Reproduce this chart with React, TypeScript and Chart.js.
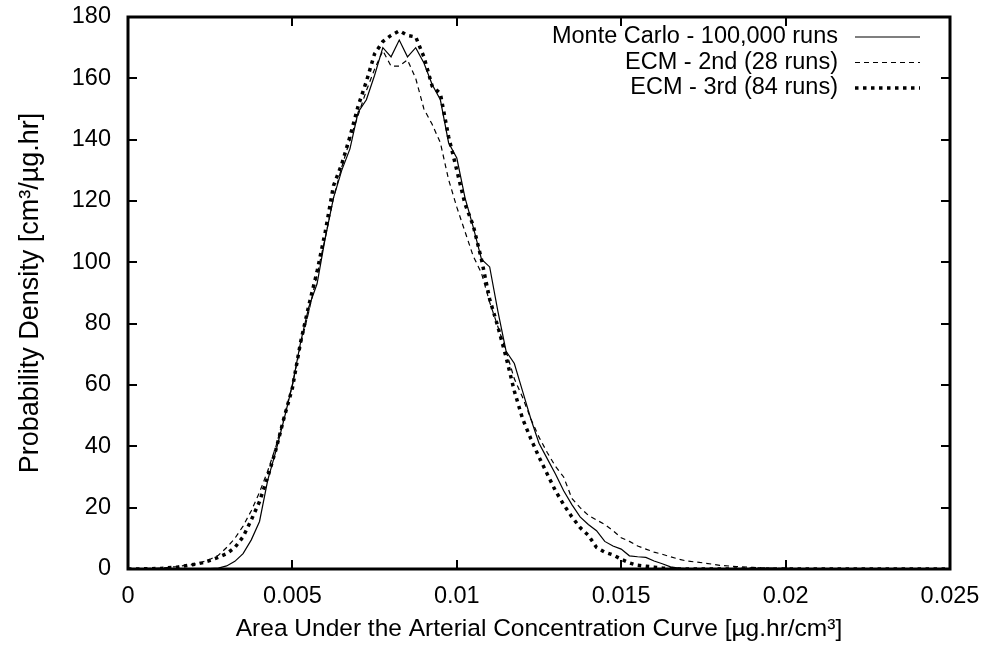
import React, { useEffect, useRef } from "react";
import { Chart, registerables } from "chart.js";

Chart.register(...registerables);

const xValues = [
  0, 0.0005, 0.001, 0.0015,
  0.002, 0.00225, 0.0025, 0.00275, 0.003, 0.00325, 0.0035, 0.00375, 0.004, 0.00425,
  0.0045, 0.00475, 0.005, 0.00525, 0.0055, 0.00575, 0.006, 0.00625, 0.0065, 0.00675,
  0.007, 0.00725, 0.0075, 0.00775, 0.008, 0.00825, 0.0085, 0.00875, 0.009, 0.00925,
  0.0095, 0.00975, 0.01, 0.01025, 0.0105, 0.01075, 0.011, 0.01125, 0.0115, 0.01175,
  0.012, 0.01225, 0.0125, 0.01275, 0.013, 0.01325, 0.0135, 0.01375, 0.014, 0.01425,
  0.0145, 0.01475, 0.015, 0.01525, 0.0155, 0.01575, 0.016, 0.01625, 0.0165, 0.01675,
  0.017, 0.0175, 0.018, 0.0185, 0.019, 0.0195, 0.02, 0.021, 0.022, 0.023, 0.024, 0.025,
];

const monteCarlo = [
  0, 0, 0, 0,
  0, 0, 0.1, 0.3, 1, 2.5, 5, 9.5, 15.5, 29,
  38.5, 49, 60, 74, 85.5, 93, 108, 121, 130, 137,
  149, 153, 161, 170, 167, 172.5, 167, 170, 165, 158,
  153, 139, 134, 121, 111.5, 101, 98.5, 84, 71, 67,
  58, 49, 41, 36, 31, 25.5, 21, 17, 14.5, 12.5,
  9, 7.5, 6.5, 4.3, 4, 3.8, 2.6, 1.7, 0.7, 0.3,
  0.1, 0, 0, 0, 0, 0, 0, 0, 0, 0, 0, 0,
];

const ecm2nd = [
  0, 0.1, 0.3, 0.8,
  1.5, 2.2, 3.2, 4.5, 7, 10, 14, 19, 25, 32,
  40, 50, 60, 73, 84, 96, 108, 121, 131, 140,
  148, 156, 163, 169, 164, 164, 166, 160, 150, 145,
  139, 127, 118, 110, 102, 96.5, 87, 79, 71, 62,
  56, 49, 43, 38, 33.5, 30, 23, 20, 17.5, 16,
  14.5, 12.5, 10.2, 9, 7.5, 6.5, 5.5, 4.8, 4, 3.2,
  2.6, 2, 1.2, 0.8, 0.5, 0.3, 0.2, 0.05, 0, 0, 0, 0,
];

const ecm3rd = [
  0, 0.05, 0.2, 0.6,
  1.5, 2, 2.8, 3.8, 5, 7, 10.5, 16, 22, 30,
  39, 49.5, 59, 74, 86, 97, 110, 125, 132, 141,
  151, 159, 168, 172, 174, 175.5, 174, 173.5, 167, 157.5,
  155, 141, 130, 119, 112, 101, 88, 79, 69, 58,
  49, 42.5, 36.5, 31, 25.5, 21, 17, 13.5, 11, 7,
  5.5, 4.6, 3.2, 2, 1.2, 0.9, 0.6, 0.3, 0.1, 0,
  0, 0, 0, 0, 0, 0, 0, 0, 0, 0, 0, 0,
];

const seriesLabels = [
  "Monte Carlo - 100,000 runs",
  "ECM - 2nd (28 runs)",
  "ECM - 3rd (84 runs)",
];

const xTicks = [0, 0.005, 0.01, 0.015, 0.02, 0.025];
const yTicks = [0, 20, 40, 60, 80, 100, 120, 140, 160, 180];

const FONT = "'Liberation Sans', Arial, Helvetica, sans-serif";
const FS = 23.5;

const framePlugin = {
  id: "frameTicks",
  afterDatasetsDraw(chart: any) {
    const { ctx, chartArea } = chart;
    const { left, right, top, bottom } = chartArea;
    const xs = chart.scales.x;
    const ys = chart.scales.y;
    ctx.save();
    ctx.strokeStyle = "#000";
    ctx.lineWidth = 2;
    const tl = 9;
    ctx.beginPath();
    xTicks.forEach((v) => {
      const px = Math.round(xs.getPixelForValue(v));
      ctx.moveTo(px, bottom);
      ctx.lineTo(px, bottom - tl);
      ctx.moveTo(px, top);
      ctx.lineTo(px, top + tl);
    });
    yTicks.forEach((v) => {
      const py = Math.round(ys.getPixelForValue(v));
      ctx.moveTo(left, py);
      ctx.lineTo(left + tl, py);
      ctx.moveTo(right, py);
      ctx.lineTo(right - tl, py);
    });
    ctx.stroke();
    ctx.lineWidth = 3;
    ctx.strokeRect(left, top, right - left, bottom - top);
    ctx.restore();
  },
};

const legendPlugin = {
  id: "gnuLegend",
  afterDraw(chart: any) {
    const { ctx } = chart;
    ctx.save();
    ctx.font = `${FS}px ${FONT}`;
    ctx.textAlign = "right";
    ctx.textBaseline = "middle";
    ctx.fillStyle = "#000";
    const textRight = 838;
    const x0 = 855;
    const x1 = 920;
    const y0 = 37;
    const dy = 25.5;
    chart.data.datasets.forEach((ds: any, i: number) => {
      const y = y0 + i * dy;
      ctx.fillText(ds.label, textRight, y);
      ctx.beginPath();
      ctx.strokeStyle = ds.borderColor;
      ctx.lineWidth = ds.borderWidth;
      ctx.setLineDash(ds.borderDash || []);
      ctx.moveTo(x0, y);
      ctx.lineTo(x1, y);
      ctx.stroke();
    });
    ctx.restore();
  },
};

export default function App() {
  const ref = useRef<HTMLCanvasElement | null>(null);
  useEffect(() => {
    if (!ref.current) return;
    const mk = (ys: number[]) => xValues.map((x, i) => ({ x, y: ys[i] }));
    const chart = new Chart(ref.current, {
      type: "line",
      data: {
        datasets: [
          {
            label: seriesLabels[0],
            data: mk(monteCarlo),
            borderColor: "#000",
            borderWidth: 1.2,
            pointRadius: 0,
            tension: 0,
          },
          {
            label: seriesLabels[1],
            data: mk(ecm2nd),
            borderColor: "#000",
            borderWidth: 1.2,
            borderDash: [5, 4],
            pointRadius: 0,
            tension: 0,
          },
          {
            label: seriesLabels[2],
            data: mk(ecm3rd),
            borderColor: "#000",
            borderWidth: 3.5,
            borderDash: [3.5, 4.5],
            borderCapStyle: "butt",
            pointRadius: 0,
            tension: 0,
          },
        ],
      },
      options: {
        responsive: false,
        animation: false,
        layout: { padding: { left: 0, right: 35, top: 17, bottom: 0 } },
        plugins: {
          legend: { display: false },
          tooltip: { enabled: false },
        },
        scales: {
          x: {
            type: "linear",
            min: 0,
            max: 0.025,
            afterBuildTicks: (s: any) => {
              s.ticks = xTicks.map((v) => ({ value: v }));
            },
            afterFit: (s: any) => {
              s.height = 78;
              s.paddingLeft = 0;
              s.paddingRight = 0;
            },
            grid: { display: false, drawTicks: false },
            border: { display: false },
            ticks: {
              padding: 13,
              color: "#000",
              font: { family: FONT, size: FS },
              maxRotation: 0,
              callback: (v: any) => String(Number(Number(v).toFixed(3))),
            },
            title: {
              display: true,
              text: "Area Under the Arterial Concentration Curve [µg.hr/cm³]",
              color: "#000",
              font: { family: FONT, size: 24.5 },
              padding: { top: 0, bottom: 3 },
            },
          },
          y: {
            type: "linear",
            min: 0,
            max: 180,
            afterBuildTicks: (s: any) => {
              s.ticks = yTicks.map((v) => ({ value: v }));
            },
            afterFit: (s: any) => {
              s.width = 128;
              s.paddingTop = 0;
              s.paddingBottom = 0;
            },
            grid: { display: false, drawTicks: false },
            border: { display: false },
            ticks: {
              padding: 17,
              color: "#000",
              font: { family: FONT, size: FS },
            },
            title: {
              display: true,
              text: "Probability Density [cm³/µg.hr]",
              color: "#000",
              font: { family: FONT, size: 27 },
              padding: { top: 14, bottom: 0 },
            },
          },
        },
      },
      plugins: [framePlugin, legendPlugin],
    });
    return () => chart.destroy();
  }, []);
  return (
    <div style={{ position: "fixed", left: 0, top: 0, width: 985, height: 647, background: "#fff" }}>
      <canvas ref={ref} width={985} height={647} />
    </div>
  );
}
